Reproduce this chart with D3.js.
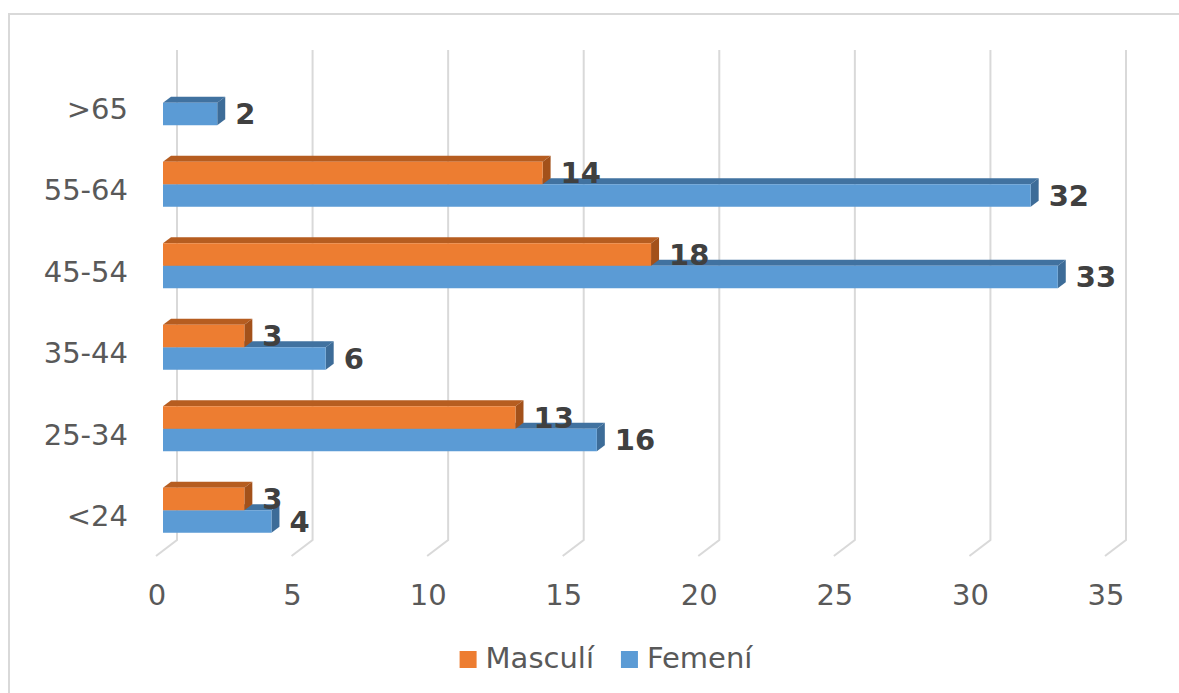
<!DOCTYPE html>
<html>
<head>
<meta charset="utf-8">
<script src="https://cdn.jsdelivr.net/npm/d3@7"></script>
<style>
  body { margin: 0; background: #fff; }
  text { font-family: "DejaVu Sans", Verdana, sans-serif; }
</style>
</head>
<body>
<svg id="chart" width="1179" height="693"></svg>
<script>
// data
var categories = [">65", "55-64", "45-54", "35-44", "25-34", "<24"];
var masculi = [null, 14, 18, 3, 13, 3];
var femeni = [2, 32, 33, 6, 16, 4];
var ticks = [0, 5, 10, 15, 20, 25, 30, 35];
var seriesNames = ["Masculí", "Femení"];

var colors = {
  orange: { front: "#ED7D31", top: "#B65D20", side: "#A3511A" },
  blue: { front: "#5B9BD5", top: "#4172A0", side: "#3D6C98" }
};

var svg = d3.select("#chart");

// chart border
svg.append("rect").attr("x", 9).attr("y", 14).attr("width", 1200).attr("height", 700)
  .attr("fill", "#fff").attr("stroke", "#d9d9d9").attr("stroke-width", 2);

var xBack = d3.scaleLinear().domain([0, 35]).range([177, 1126]);
var frontShift = -14;
var xFront = function(v){ return xBack(v) + frontShift; };
var y = d3.scaleBand().domain(categories).range([62, 551]);
var barH = 22.5, depthX = 8, depthY = -6;

// gridlines with the 3d floor kink
var grid = svg.append("g");
ticks.forEach(function(t){
  var gx = xBack(t);
  grid.append("path")
    .attr("d", "M" + gx + ",50 L" + gx + ",540 L" + (gx - 21) + ",556")
    .attr("fill", "none").attr("stroke", "#d9d9d9").attr("stroke-width", 2);
});

// tick labels
svg.append("g").selectAll("text").data(ticks).enter().append("text")
  .attr("x", function(d){ return xBack(d) - 20; })
  .attr("y", 605)
  .attr("text-anchor", "middle")
  .attr("font-size", 29).attr("fill", "#595959")
  .text(function(d){ return d; });

// category labels
svg.append("g").selectAll("text").data(categories).enter().append("text")
  .attr("x", 128)
  .attr("y", function(d){ return y(d) + y.bandwidth() / 2 + 16; })
  .attr("text-anchor", "end")
  .attr("font-size", 29).attr("fill", "#595959")
  .text(function(d){ return d; });

function drawBar(g, v, top, c){
  var x0 = xFront(0), x1 = xFront(v);
  // top face
  g.append("path")
    .attr("d", "M" + x0 + "," + top + " L" + (x0 + depthX) + "," + (top + depthY) +
      " L" + (x1 + depthX) + "," + (top + depthY) + " L" + x1 + "," + top + "Z")
    .attr("fill", c.top);
  // side face
  g.append("path")
    .attr("d", "M" + x1 + "," + top + " L" + (x1 + depthX) + "," + (top + depthY) +
      " L" + (x1 + depthX) + "," + (top + barH + depthY) + " L" + x1 + "," + (top + barH) + "Z")
    .attr("fill", c.side);
  // front face
  g.append("rect").attr("x", x0).attr("y", top).attr("width", x1 - x0).attr("height", barH)
    .attr("fill", c.front);
}

var bars = svg.append("g");
var labels = svg.append("g");
categories.forEach(function(cat, i){
  var mid = y(cat) + y.bandwidth() / 2;
  var g = bars.append("g");
  if (femeni[i] != null) drawBar(g, femeni[i], mid, colors.blue);
  if (masculi[i] != null) drawBar(g, masculi[i], mid - barH, colors.orange);
  if (masculi[i] != null) {
    labels.append("text").attr("x", xFront(masculi[i]) + 18).attr("y", mid - barH / 2 + 10)
      .attr("font-size", 29).attr("font-weight", "bold").attr("fill", "#404040").text(masculi[i]);
  }
  if (femeni[i] != null) {
    labels.append("text").attr("x", xFront(femeni[i]) + 18).attr("y", mid + barH / 2 + 10)
      .attr("font-size", 29).attr("font-weight", "bold").attr("fill", "#404040").text(femeni[i]);
  }
});

// legend
var legend = svg.append("g");
var legendColors = [colors.orange.front, colors.blue.front];
var lx = 0;
seriesNames.forEach(function(name, i){
  var item = legend.append("g").attr("transform", "translate(" + lx + ",0)");
  item.append("rect").attr("x", 0).attr("y", 651).attr("width", 17).attr("height", 17)
    .attr("fill", legendColors[i]);
  var t = item.append("text").attr("x", 26).attr("y", 668)
    .attr("font-size", 29).attr("fill", "#595959").text(name);
  lx += 26 + t.node().getComputedTextLength() + 27;
});
var legendW = lx - 27;
legend.attr("transform", "translate(" + (606 - legendW / 2) + ",0)");
</script>
</body>
</html>
